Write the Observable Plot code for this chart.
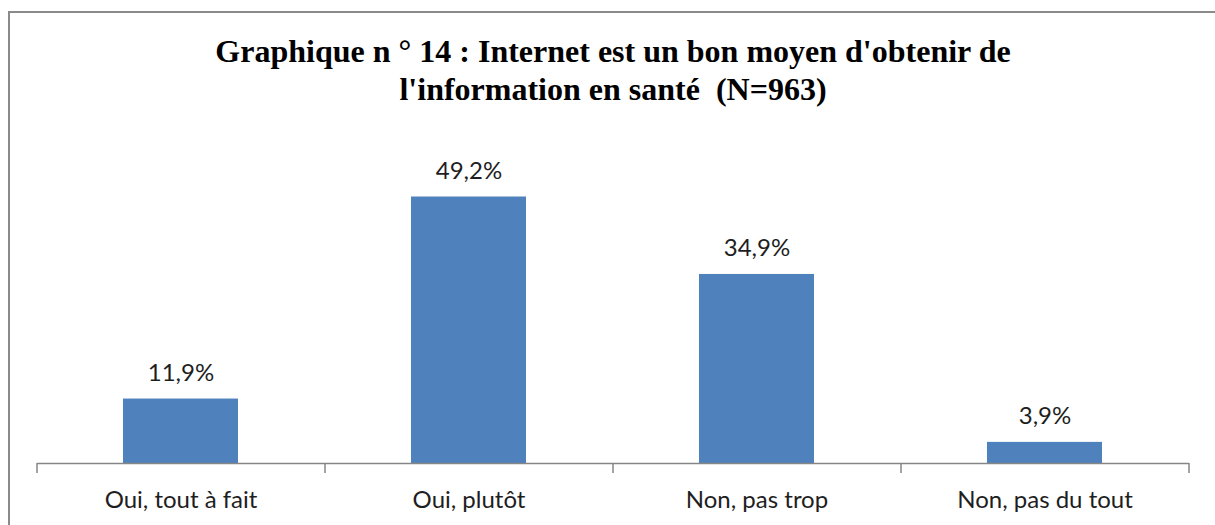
<!DOCTYPE html>
<html>
<head>
<meta charset="utf-8">
<script src="https://cdn.jsdelivr.net/npm/d3@7"></script>
<script src="https://cdn.jsdelivr.net/npm/@observablehq/plot@0.6"></script>
<style>
  html, body { margin: 0; padding: 0; background: #fff; overflow: hidden; width: 1215px; height: 525px; }
  #wrap { position: relative; width: 1215px; height: 525px; }
  #frame { position: absolute; left: 8px; top: 11px; width: 1300px; height: 600px; border-top: 2px solid #8a8a8a; border-left: 2px solid #8a8a8a; }
  #title { position: absolute; left: 0; width: 1226px; top: 32px; text-align: center; font-family: "Liberation Serif", "Times New Roman", serif; font-weight: bold; font-size: 32px; line-height: 38px; color: #000; }
  #chart { position: absolute; left: 0; top: 0; }
</style>
</head>
<body>
<div id="wrap">
  <div id="frame"></div>
  <div id="chart"></div>
  <div id="title">Graphique n ° 14 : Internet est un bon moyen d'obtenir de<br>l'information en santé&nbsp; (N=963)</div>
</div>
<script>
const categories = ["Oui, tout à fait", "Oui, plutôt", "Non, pas trop", "Non, pas du tout"];
const values = [11.9, 49.2, 34.9, 3.9];

const data = categories.map((c, i) => ({category: c, value: values[i]}));
const fmt = v => v.toFixed(1).replace(".", ",") + "%";

const W = 1215, H = 525;
const chart = Plot.plot({
  width: W,
  height: H,
  marginLeft: 37,
  marginRight: 26,
  marginTop: 138,
  marginBottom: 62,
  style: {fontFamily: "Lato, 'Open Sans', sans-serif", fontSize: "24px", color: "#1e1e1e", background: "transparent"},
  x: {domain: categories, paddingInner: 0.6, paddingOuter: 0.3, label: null},
  y: {domain: [0, 60], axis: null},
  marks: [
    Plot.barY(data, {x: "category", y: "value", fill: "#4F81BD"}),
    Plot.ruleY([0], {stroke: "#868686", strokeWidth: 1.5}),
    Plot.ruleX(categories, {x: d => d, y1: 0, y2: 0, dx: -144, insetBottom: -10, stroke: "#868686", strokeWidth: 1.5}),
    Plot.ruleX(categories.slice(-1), {x: d => d, y1: 0, y2: 0, dx: 144, insetBottom: -10, stroke: "#868686", strokeWidth: 1.5}),
    Plot.text(data, {x: "category", y: "value", text: d => fmt(d.value), dy: -26, fontSize: 24, fill: "#1e1e1e"}),
    Plot.axisX({tickSize: 0, tickPadding: 27, fontSize: 24, fill: "#1e1e1e", label: null})
  ]
});
document.getElementById("chart").appendChild(chart);
</script>
</body>
</html>
